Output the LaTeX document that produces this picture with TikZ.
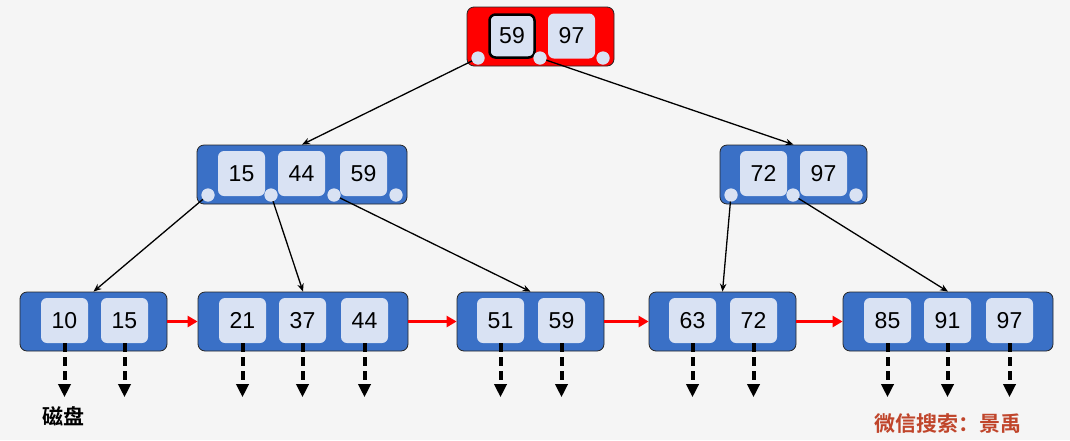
\documentclass[tikz,border=0pt]{standalone}
\usepackage{fontspec}
\setmainfont{Liberation Sans}
\newfontfamily\cjk{Noto Sans CJK SC}
\newfontfamily\cjkb{Noto Sans CJK SC Bold}
\usetikzlibrary{arrows.meta}
\definecolor{bg}{HTML}{F5F5F5}
\definecolor{nblue}{HTML}{3A70C6}
\definecolor{klight}{HTML}{D9E2F3}
\definecolor{wm}{HTML}{C0452B}
\tikzset{
  outer/.style={draw=black!85, line width=0.8pt, rounded corners=7pt, fill=nblue, minimum height=59pt, inner sep=0pt},
  rootbox/.style={outer, fill=red},
  key/.style={fill=klight, rounded corners=6pt, minimum width=47pt, minimum height=45pt, inner sep=0pt, font=\fontsize{23}{24}\selectfont},
  selkey/.style={key, draw=black, line width=2.5pt, minimum width=45pt, minimum height=43pt},
  ptr/.style={circle, fill=klight, minimum size=13pt, inner sep=0pt},
  tree/.style={draw=black, line width=1.3pt, -{Stealth[length=8pt,width=6.5pt]}},
  disk/.style={draw=black, line width=4pt, dash pattern=on 9pt off 5pt, -{Triangle[length=13pt,width=12pt]}},
  link/.style={draw=red, line width=2.5pt, -{Triangle[length=10pt,width=11pt]}},
}
\begin{document}
\begin{tikzpicture}[x=1pt,y=-1pt]
\useasboundingbox[fill=bg] (0,0) rectangle (1070,440);

% root
\node[rootbox, minimum width=147pt] (R) at (540.5,36.5) {};
\node[selkey] (R1) at (512,36) {59};
\node[key] (R2) at (571.5,36) {97};
\node[ptr] (Rp0) at (478,58) {};
\node[ptr] (Rp1) at (540,58) {};
\node[ptr] (Rp2) at (603,58) {};

% level 2 left
\node[outer, minimum width=210pt] (A) at (302,174.5) {};
\node[key] (A1) at (241.5,173.5) {15};
\node[key] (A2) at (301.5,173.5) {44};
\node[key] (A3) at (363.5,173.5) {59};
\node[ptr] (Ap0) at (208,195) {};
\node[ptr] (Ap1) at (271,195) {};
\node[ptr] (Ap2) at (334,195) {};
\node[ptr] (Ap3) at (396,195) {};

% level 2 right
\node[outer, minimum width=147pt] (B) at (793.5,174.5) {};
\node[key] (B1) at (763.5,173.5) {72};
\node[key] (B2) at (823.5,173.5) {97};
\node[ptr] (Bp0) at (731,195) {};
\node[ptr] (Bp1) at (793,195) {};
\node[ptr] (Bp2) at (856,195) {};

% leaves
\node[outer, minimum width=147pt] (L1) at (93.5,321.5) {};
\node[key] (L1a) at (64.5,320.5) {10};
\node[key] (L1b) at (124.5,320.5) {15};

\node[outer, minimum width=210pt] (L2) at (303,321.5) {};
\node[key] (L2a) at (242.5,320.5) {21};
\node[key] (L2b) at (302.5,320.5) {37};
\node[key] (L2c) at (364.5,320.5) {44};

\node[outer, minimum width=147pt] (L3) at (530.5,321.5) {};
\node[key] (L3a) at (500.5,320.5) {51};
\node[key] (L3b) at (561.5,320.5) {59};

\node[outer, minimum width=147pt] (L4) at (722.5,321.5) {};
\node[key] (L4a) at (692.5,320.5) {63};
\node[key] (L4b) at (753.5,320.5) {72};

\node[outer, minimum width=210pt] (L5) at (948,321.5) {};
\node[key] (L5a) at (887.5,320.5) {85};
\node[key] (L5b) at (947.5,320.5) {91};
\node[key] (L5c) at (1009.5,320.5) {97};

% tree pointers
\draw[tree] (Rp0.center) -- (A.north);
\draw[tree] (Rp1.center) -- (B.north);
\draw[tree] (Ap0.center) -- (L1.north);
\draw[tree] (Ap1.center) -- (L2.north);
\draw[tree] (Ap2.center) -- (L3.north);
\draw[tree] (Bp0.center) -- (L4.north);
\draw[tree] (Bp1.center) -- (L5.north);
% redraw pointer circles over lines
\foreach \p in {Rp0,Rp1,Rp2,Ap0,Ap1,Ap2,Ap3,Bp0,Bp1,Bp2}
  \fill[klight] (\p) circle (6.5pt);

% leaf links
\draw[link] (L1.east) -- (L2.west);
\draw[link] (L2.east) -- (L3.west);
\draw[link] (L3.east) -- (L4.west);
\draw[link] (L4.east) -- (L5.west);

% disk pointers
\foreach \k in {L1a,L1b,L2a,L2b,L2c,L3a,L3b,L4a,L4b,L5a,L5b,L5c}{
  \coordinate (\k d) at ([yshift=-54pt]\k.south);
  \draw[disk] (\k.south) -- (\k d);
}

\node[font=\cjkb\fontsize{21}{22}\selectfont] (disk) at (63,416) {磁盘};
\node[font=\cjkb\fontsize{21}{22}\selectfont, text=wm] (wmark) at (948,424) {微信搜索：景禹};
\end{tikzpicture}
\end{document}
